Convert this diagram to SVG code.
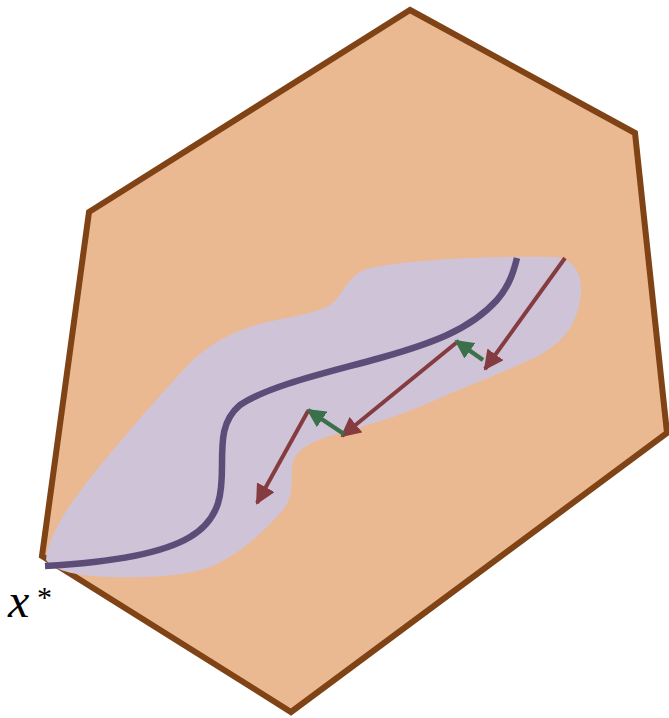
<svg xmlns="http://www.w3.org/2000/svg" width="669" height="718" viewBox="0 0 669 718">
<defs>
<style>
.red{stroke:#853c40;stroke-width:4;fill:none}
.green{stroke:#3a704a;stroke-width:4.5;fill:none}
</style>
<marker id="rh" viewBox="0 0 10 10" refX="9" refY="5" markerWidth="5" markerHeight="5" orient="auto" markerUnits="strokeWidth"><path d="M0,0 L10,5 L0,10 Z" fill="#853c40"/></marker>
<marker id="gh" viewBox="0 0 10 10" refX="9" refY="5" markerWidth="4.2" markerHeight="4.2" orient="auto" markerUnits="strokeWidth"><path d="M0,0 L10,5 L0,10 Z" fill="#3a704a"/></marker>
</defs>
<rect width="669" height="718" fill="#ffffff"/>
<g id="polytope">
<polygon points="410,10 635,133 667,433 291,712 42,556 89,212" fill="#ebb991" stroke="#7f4316" stroke-width="6" stroke-linejoin="miter"/>
</g>
<g id="region">
<path d="M46,560 C48,530 80,490 113,450 C140,418 160,395 190,363 C210,343 235,330 263,323 C295,316 320,312 330,305 C345,295 345,275 370,268 C420,258 500,256 555,257 C578,260 584,280 580,300 C576,325 565,340 540,355 C510,370 470,385 440,398 C410,412 380,422 340,433 C315,440 297,448 293,462 C290,478 295,495 283,510 C265,530 245,550 215,565 C190,576 150,578 110,577 C80,576 55,572 46,560 Z" fill="#cfc3d8"/>
</g>
<g id="trajectory">
<path d="M45,566 C100,563 160,555 190,537 C222,518 222,490 222,465 C222,440 222,420 240,405 C270,385 330,372 380,358 C430,344 470,330 497,300 C510,285 514,270 517,258" fill="none" stroke="#5e4c78" stroke-width="6.5"/>
</g>
<g id="connectors">
<line class="red" x1="565" y1="258" x2="485" y2="369" marker-end="url(#rh)"/>
<line class="green" x1="483" y1="360" x2="456" y2="341" marker-end="url(#gh)"/>
<line class="red" x1="456" y1="343" x2="342" y2="436" marker-end="url(#rh)"/>
<line class="green" x1="344" y1="434" x2="308" y2="410" marker-end="url(#gh)"/>
<line class="red" x1="308" y1="411" x2="257" y2="503" marker-end="url(#rh)"/>
</g>
<g id="label">
<text x="8" y="617" font-family="Liberation Serif, serif" font-style="italic" font-size="48" fill="#000">x</text>
<text x="37" y="607" font-family="Liberation Serif, serif" font-size="30" fill="#000">*</text>
</g>
</svg>
